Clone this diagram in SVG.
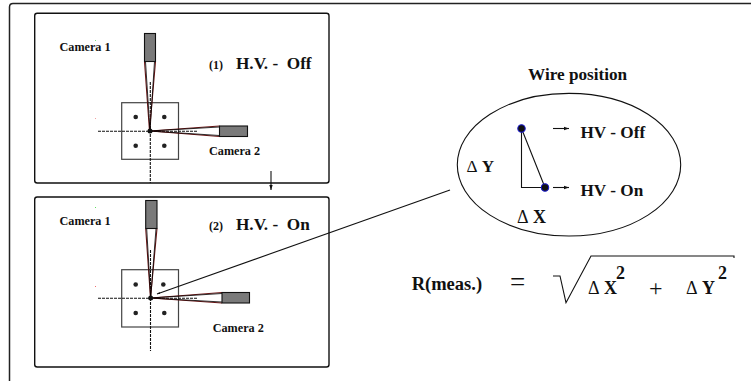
<svg xmlns="http://www.w3.org/2000/svg" width="751" height="381" viewBox="0 0 751 381">
<style>
text{font-family:"Liberation Serif","Times New Roman",serif;font-weight:bold;fill:#111;white-space:pre}
.cam{font-size:12.2px}
.hv{font-size:17.2px}
.num{font-size:12px}
.big{font-size:17.2px}
.delta{font-size:18px}
.sup{font-size:18px}
.op{font-weight:normal}
.d{font-weight:normal}
.panel{fill:#fff;stroke:#111;stroke-width:1.4}
.body{fill:#7a7a7a;stroke:#111;stroke-width:1.1}
.box{fill:none;stroke:#444;stroke-width:1.2}
.beam{fill:none;stroke:#6a1515;stroke-width:1.1}
.beam2{fill:none;stroke:#000;stroke-width:.8}
.dash{fill:none;stroke:#111;stroke-width:1.1;stroke-dasharray:3 1}
.line{fill:none;stroke:#111;stroke-width:1.1}
.dot{fill:#222}
</style>
<defs>
<marker id="ah" markerWidth="6" markerHeight="6" refX="5" refY="2.5" orient="auto" markerUnits="userSpaceOnUse"><path d="M0 0.8L5 2.5L0 4.2z" fill="#111"/></marker>
<marker id="ahs" markerWidth="4" markerHeight="4" refX="3" refY="1.5" orient="auto" markerUnits="userSpaceOnUse"><path d="M0 0.5L3 1.5L0 2.5z" fill="#111"/></marker>
</defs>
<path id="frame" d="M9.5 381V7Q9.5 3.5 13 3.5H751" fill="none" stroke="#222" stroke-width="1.5"/>
<g id="panel1">
<rect class="panel" x="34.7" y="13.3" width="294.3" height="169.7" rx="2.5"/>
<rect class="box" x="121.7" y="102.7" width="56.8" height="56.6"/>
<circle class="dot" cx="135.7" cy="117" r="2.3"/><circle class="dot" cx="164.3" cy="117" r="2.3"/><circle class="dot" cx="135.7" cy="145.7" r="2.3"/><circle class="dot" cx="164.3" cy="145.7" r="2.3"/>
<path class="dash" d="M98 131.2H198M150.3 82V183"/>
<path class="beam" d="M144.5 61.5L149.5 131L155.5 61.5M219.5 126L150 131L219.5 136.5"/>
<path class="beam2" d="M145.5 61.5L150 131L154.5 61.5M219.5 127L150 131L219.5 135.5"/>
<circle cx="150" cy="131" r="2.5" fill="#111"/>
<rect class="body" x="144.5" y="33.5" width="11" height="28"/>
<rect class="body" x="219.5" y="126" width="28" height="10.5"/>
<rect x="95" y="40" width="1" height="1" fill="#7fe07f"/>
<rect x="95" y="118" width="1" height="1" fill="#f0a0a0"/>
<text class="cam" x="59.5" y="51">Camera 1</text>
<text class="cam" x="209" y="154.7">Camera 2</text>
<text class="num" x="209" y="68.5">(1)</text>
<text class="hv" x="236" y="69">H.V. -  Off</text>
</g>
<g id="panel2">
<rect class="panel" x="34.7" y="197" width="294.3" height="170" rx="2.5"/>
<rect class="box" x="121.7" y="269.7" width="56.8" height="57.3"/>
<circle class="dot" cx="135.7" cy="284.5" r="2.3"/><circle class="dot" cx="163.3" cy="284.5" r="2.3"/><circle class="dot" cx="135.7" cy="313" r="2.3"/><circle class="dot" cx="164.3" cy="313" r="2.3"/>
<path class="dash" d="M98 298.3H198M150.5 250V351"/>
<path class="beam" d="M145.7 228.5L150.5 298L157 228.5M222 292.5L150.5 298L222 303"/>
<path class="beam2" d="M146.7 228.5L150.7 298L156 228.5M222 293.5L150.5 298L222 302"/>
<circle cx="150.7" cy="298" r="2.5" fill="#111"/>
<rect class="body" x="145.7" y="200.5" width="11.3" height="28"/>
<rect class="body" x="222" y="292.5" width="27.5" height="10.5"/>
<rect x="95" y="207" width="1" height="1" fill="#60e060"/>
<rect x="95" y="286" width="1" height="1" fill="#f07070"/>
<text class="cam" x="59.5" y="225">Camera 1</text>
<text class="cam" x="212.7" y="331.7">Camera 2</text>
<text class="num" x="209" y="229.5">(2)</text>
<text class="hv" x="236" y="230">H.V. -  On</text>
</g>
<g id="wire-position">
<text class="big" x="528" y="79.5">Wire position</text>
<ellipse cx="569" cy="164.7" rx="111.7" ry="71.3" fill="none" stroke="#111" stroke-width="1.1"/>
<path class="line" d="M521.5 128.5V187.5H545L521.5 128.5"/>
<circle cx="521.5" cy="128.5" r="3.7" fill="#111" stroke="#1a1acc" stroke-width="1.1"/>
<circle cx="545" cy="187.5" r="3.7" fill="#111" stroke="#1a1acc" stroke-width="1.1"/>
<text class="big" x="580.5" y="137.5">HV - Off</text>
<text class="big" x="580.5" y="195.5">HV - On</text>
<text class="big" x="466.5" y="171.7"><tspan class="d">Δ</tspan> Y</text>
<text class="delta" x="517" y="223.3"><tspan class="d">Δ</tspan> X</text>
</g>
<g id="formula">
<text x="411.7" y="290" style="font-size:18.5px">R(meas.)</text>
<text class="op" x="510" y="291" style="font-size:27px">=</text>
<path class="line" d="M553 276H560L566 302.7L591 256H734V258"/>
<text class="delta" x="588" y="294"><tspan class="d">Δ</tspan> X</text>
<text class="sup" x="616" y="279">2</text>
<text class="op" x="649" y="296" style="font-size:24px">+</text>
<text class="delta" x="686" y="294"><tspan class="d">Δ</tspan> Y</text>
<text class="sup" x="718" y="279">2</text>
</g>
<g id="connectors">
<path class="line" d="M271 171V190" marker-end="url(#ah)"/>
<path class="line" d="M450 190L157 294" marker-end="url(#ahs)"/>
<path class="line" d="M553 128.5H569" marker-end="url(#ah)"/>
<path class="line" d="M553 187.5H569" marker-end="url(#ah)"/>
</g>
</svg>
